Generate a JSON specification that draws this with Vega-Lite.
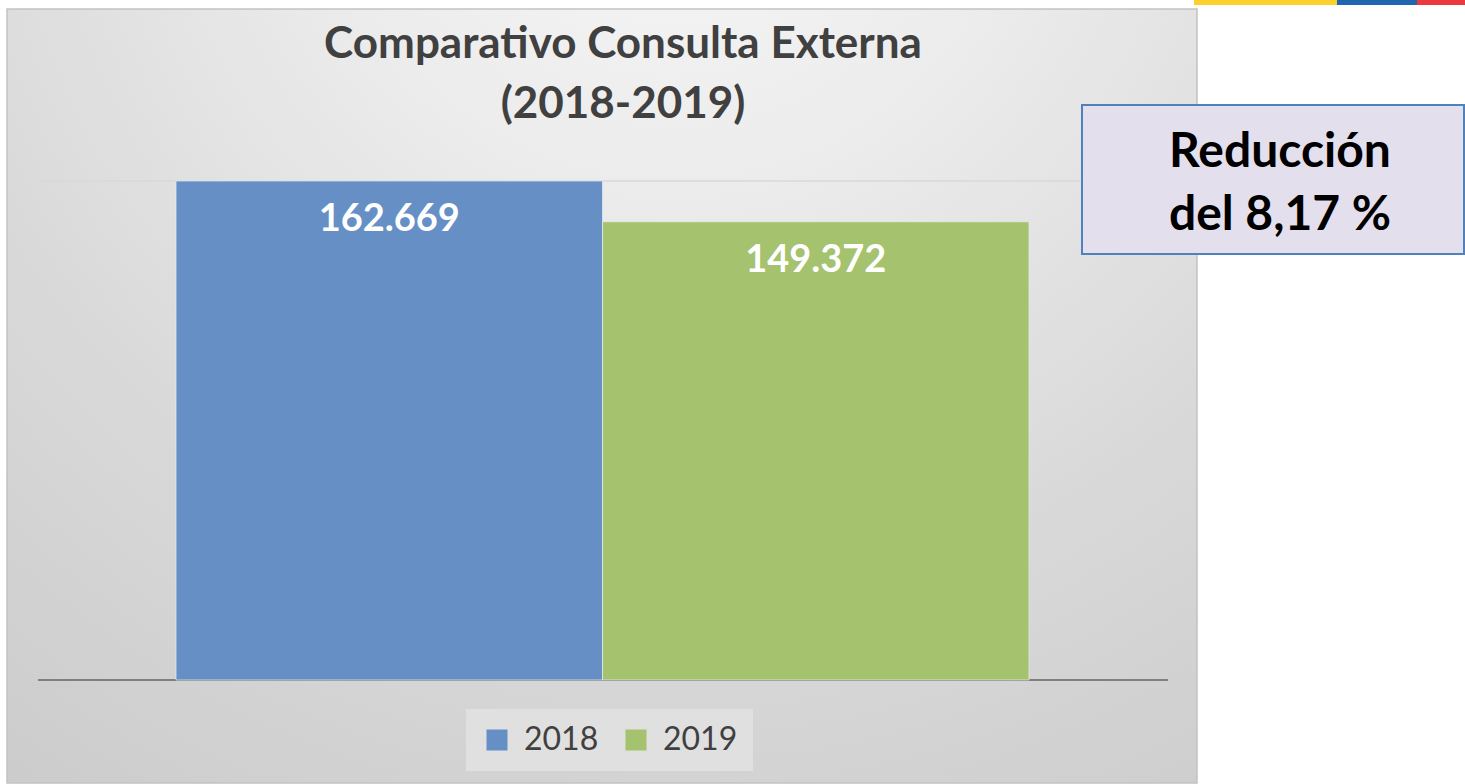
{
  "$schema": "https://vega.github.io/schema/vega-lite/v6.json",
  "width": 1465,
  "height": 784,
  "autosize": {"type": "fit", "contains": "padding"},
  "padding": 0,
  "background": "white",
  "config": {"view": {"stroke": null}},
  "datasets": {
    "consultas": [
      {"anio": "2018", "consultas": 162669, "etiqueta": "162.669"},
      {"anio": "2019", "consultas": 149372, "etiqueta": "149.372"}
    ]
  },
  "layer": [
    {
      "data": {"values": [{}]},
      "layer": [
        {
          "mark": {
            "type": "rect",
            "fill": {
              "gradient": "radial",
              "x1": 0.56, "y1": 0.02, "r1": 0,
              "x2": 0.56, "y2": 0.02, "r2": 1,
              "stops": [
                {"offset": 0, "color": "#f8f8f8"},
                {"offset": 0.3, "color": "#ececec"},
                {"offset": 0.65, "color": "#d9d9d9"},
                {"offset": 1, "color": "#cbcbcb"}
              ]
            },
            "stroke": "#c2c2c2",
            "strokeWidth": 1.5
          },
          "encoding": {
            "x": {"datum": 7, "type": "quantitative", "scale": {"domain": [0, 1465], "nice": false, "zero": false}, "axis": null},
            "x2": {"datum": 1197},
            "y": {"datum": 9, "type": "quantitative", "scale": {"domain": [0, 784], "reverse": true, "nice": false, "zero": false}, "axis": null},
            "y2": {"datum": 783}
          }
        },
        {
          "mark": {"type": "rule", "color": "#d9d9d9", "strokeWidth": 1.5},
          "encoding": {
            "x": {"datum": 38, "type": "quantitative", "scale": {"domain": [0, 1465], "nice": false, "zero": false}, "axis": null},
            "x2": {"datum": 1168},
            "y": {"datum": 181, "type": "quantitative", "scale": {"domain": [0, 784], "reverse": true, "nice": false, "zero": false}, "axis": null}
          }
        },
        {
          "mark": {"type": "rule", "color": "#7f7f7f", "strokeWidth": 2},
          "encoding": {
            "x": {"datum": 38, "type": "quantitative", "scale": {"domain": [0, 1465], "nice": false, "zero": false}, "axis": null},
            "x2": {"datum": 1168},
            "y": {"datum": 680, "type": "quantitative", "scale": {"domain": [0, 784], "reverse": true, "nice": false, "zero": false}, "axis": null}
          }
        },
        {
          "mark": {"type": "rect", "fill": "#fdd12c"},
          "encoding": {
            "x": {"datum": 1194, "type": "quantitative", "scale": {"domain": [0, 1465], "nice": false, "zero": false}, "axis": null},
            "x2": {"datum": 1337},
            "y": {"datum": 0, "type": "quantitative", "scale": {"domain": [0, 784], "reverse": true, "nice": false, "zero": false}, "axis": null},
            "y2": {"datum": 5}
          }
        },
        {
          "mark": {"type": "rect", "fill": "#2066ae"},
          "encoding": {
            "x": {"datum": 1337, "type": "quantitative", "scale": {"domain": [0, 1465], "nice": false, "zero": false}, "axis": null},
            "x2": {"datum": 1417},
            "y": {"datum": 0, "type": "quantitative", "scale": {"domain": [0, 784], "reverse": true, "nice": false, "zero": false}, "axis": null},
            "y2": {"datum": 5}
          }
        },
        {
          "mark": {"type": "rect", "fill": "#ea3a40"},
          "encoding": {
            "x": {"datum": 1417, "type": "quantitative", "scale": {"domain": [0, 1465], "nice": false, "zero": false}, "axis": null},
            "x2": {"datum": 1465},
            "y": {"datum": 0, "type": "quantitative", "scale": {"domain": [0, 784], "reverse": true, "nice": false, "zero": false}, "axis": null},
            "y2": {"datum": 5}
          }
        },
        {
          "mark": {"type": "text", "font": "Lato", "fontWeight": "bold", "fontSize": 44, "color": "#404040", "align": "center", "baseline": "alphabetic"},
          "encoding": {
            "x": {"datum": 623, "type": "quantitative", "scale": {"domain": [0, 1465], "nice": false, "zero": false}, "axis": null},
            "y": {"datum": 58, "type": "quantitative", "scale": {"domain": [0, 784], "reverse": true, "nice": false, "zero": false}, "axis": null},
            "text": {"value": "Comparativo Consulta Externa"}
          }
        },
        {
          "mark": {"type": "text", "font": "Lato", "fontWeight": "bold", "fontSize": 44, "color": "#404040", "align": "center", "baseline": "alphabetic"},
          "encoding": {
            "x": {"datum": 623, "type": "quantitative", "scale": {"domain": [0, 1465], "nice": false, "zero": false}, "axis": null},
            "y": {"datum": 118, "type": "quantitative", "scale": {"domain": [0, 784], "reverse": true, "nice": false, "zero": false}, "axis": null},
            "text": {"value": "(2018-2019)"}
          }
        }
      ]
    },
    {
      "data": {"name": "consultas"},
      "encoding": {
        "x": {
          "field": "anio",
          "type": "nominal",
          "scale": {"paddingInner": 0, "paddingOuter": 0.7175, "align": 0.2876},
          "axis": null
        }
      },
      "layer": [
        {
          "mark": {"type": "bar", "stroke": "#e6edf5", "strokeWidth": 1, "strokeOpacity": 0.7},
          "encoding": {
            "y": {"field": "consultas", "type": "quantitative", "scale": {"domain": [-33903, 221673], "nice": false, "zero": false}, "axis": null},
            "y2": {"datum": 0},
            "color": {
              "field": "anio",
              "type": "nominal",
              "scale": {"range": ["#6690c5", "#a5c26e"]},
              "legend": {
                "title": null,
                "orient": "none",
                "legendX": 466,
                "legendY": 709,
                "direction": "horizontal",
                "symbolType": "square",
                "symbolSize": 441,
                "symbolStrokeWidth": 0,
                "symbolOpacity": 1,
                "labelFontSize": 32,
                "labelFont": "Lato",
                "labelColor": "#404040",
                "labelOffset": 11,
                "columnPadding": 21,
                "fillColor": "#e0e0e0",
                "padding": 15
              }
            }
          }
        },
        {
          "mark": {"type": "text", "color": "white", "font": "Lato", "fontWeight": "bold", "fontSize": 38, "baseline": "middle", "align": "center", "dy": 39},
          "encoding": {
            "y": {"field": "consultas", "type": "quantitative"},
            "text": {"field": "etiqueta"}
          }
        }
      ]
    },
    {
      "data": {"values": [{}]},
      "layer": [
        {
          "mark": {"type": "rect", "fill": "#e4dfec", "stroke": "#4f81bd", "strokeWidth": 2},
          "encoding": {
            "x": {"datum": 1082, "type": "quantitative", "scale": {"domain": [0, 1465], "nice": false, "zero": false}, "axis": null},
            "x2": {"datum": 1464},
            "y": {"datum": 105, "type": "quantitative", "scale": {"domain": [0, 784], "reverse": true, "nice": false, "zero": false}, "axis": null},
            "y2": {"datum": 254}
          }
        },
        {
          "mark": {"type": "text", "font": "Lato", "fontWeight": "bold", "fontSize": 48, "color": "black", "align": "center", "baseline": "alphabetic"},
          "encoding": {
            "x": {"datum": 1280, "type": "quantitative", "scale": {"domain": [0, 1465], "nice": false, "zero": false}, "axis": null},
            "y": {"datum": 167, "type": "quantitative", "scale": {"domain": [0, 784], "reverse": true, "nice": false, "zero": false}, "axis": null},
            "text": {"value": "Reducción"}
          }
        },
        {
          "mark": {"type": "text", "font": "Lato", "fontWeight": "bold", "fontSize": 48, "color": "black", "align": "center", "baseline": "alphabetic"},
          "encoding": {
            "x": {"datum": 1280, "type": "quantitative", "scale": {"domain": [0, 1465], "nice": false, "zero": false}, "axis": null},
            "y": {"datum": 230, "type": "quantitative", "scale": {"domain": [0, 784], "reverse": true, "nice": false, "zero": false}, "axis": null},
            "text": {"value": "del 8,17 %"}
          }
        }
      ]
    }
  ],
  "resolve": {"scale": {"x": "independent", "y": "independent"}}
}
